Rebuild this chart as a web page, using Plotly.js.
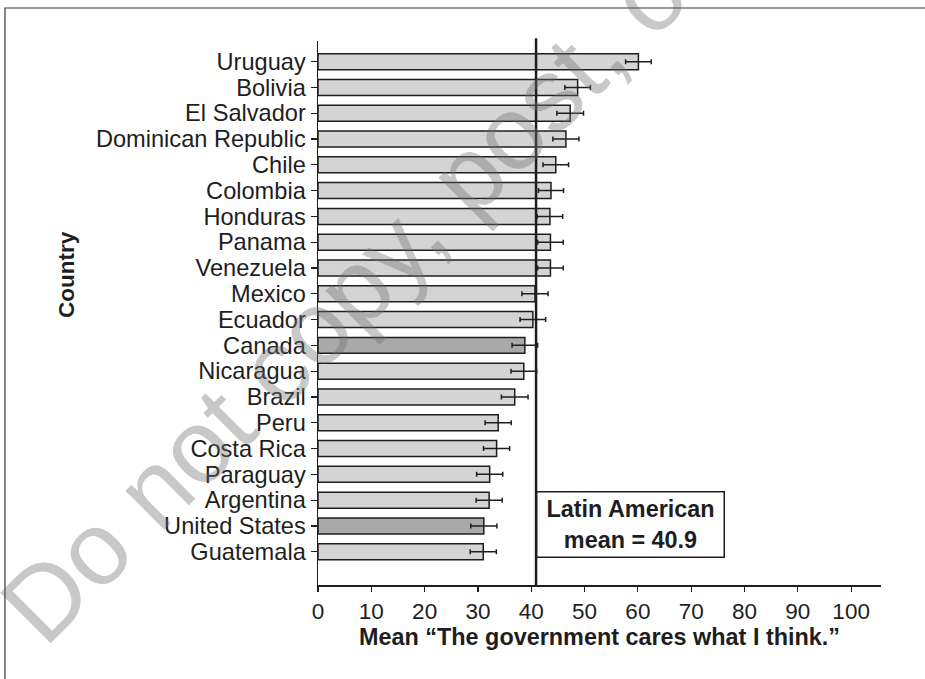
<!DOCTYPE html>
<html>
<head>
<meta charset="utf-8">
<script src="https://cdn.plot.ly/plotly-3.0.1.min.js"></script>
<style>
html,body{margin:0;padding:0;background:#fff;}
#chart{width:925px;height:679px;}
</style>
</head>
<body>
<div id="chart"></div>
<script>
const countries = ["Uruguay","Bolivia","El Salvador","Dominican Republic","Chile","Colombia","Honduras","Panama","Venezuela","Mexico","Ecuador","Canada","Nicaragua","Brazil","Peru","Costa Rica","Paraguay","Argentina","United States","Guatemala"];
const means = [60.1,48.7,47.3,46.5,44.6,43.7,43.5,43.6,43.6,40.7,40.3,38.8,38.6,36.9,33.8,33.5,32.2,32.1,31.1,31.0];
const errors = [2.4,2.4,2.5,2.45,2.4,2.35,2.4,2.4,2.4,2.45,2.4,2.4,2.4,2.5,2.45,2.45,2.45,2.45,2.45,2.45];
const northAmerican = ["Canada","United States"];
const latinMean = 40.9;
const xTicks = [0,10,20,30,40,50,60,70,80,90,100];

const font = "'Liberation Sans', Arial, Helvetica, sans-serif";
const colors = countries.map(c => northAmerican.includes(c) ? "#a9a9a9" : "#d4d4d4");

const trace = {
  type: "bar",
  orientation: "h",
  x: means,
  y: countries,
  width: 0.62,
  marker: {color: colors, line: {color: "#1e1e1e", width: 1.5}},
  error_x: {type: "data", array: errors, visible: true, color: "#1e1e1e", thickness: 1.5, width: 2.5},
  hoverinfo: "skip"
};

const layout = {
  width: 925, height: 679,
  margin: {l: 318, r: 44, t: 41, b: 94, pad: 0},
  paper_bgcolor: "#fff", plot_bgcolor: "#fff",
  showlegend: false,
  font: {family: font, color: "#1e1e1e", size: 23},
  xaxis: {
    range: [0, 105.6], tickmode: "array", tickvals: xTicks, ticktext: xTicks.map(String),
    showgrid: false, zeroline: false, showline: true, linecolor: "#1e1e1e", linewidth: 1.5,
    ticks: "outside", ticklen: 5, tickwidth: 1.2, tickcolor: "#1e1e1e",
    tickfont: {size: 22.5, family: font, color: "#1e1e1e"},
    title: {text: "<b>Mean \u201cThe government cares what I think.\u201d</b>", font: {size: 23.4, family: font, color: "#1e1e1e"}, standoff: 6}
  },
  yaxis: {
    type: "category", categoryorder: "array", categoryarray: countries,
    tickmode: "array", tickvals: countries, ticktext: countries,
    range: [20.29, -0.8],
    showgrid: false, zeroline: false, showline: true, linecolor: "#1e1e1e", linewidth: 1.5,
    ticks: "outside", ticklen: 6, tickwidth: 1.2, tickcolor: "#1e1e1e",
    tickfont: {size: 23.6, family: font, color: "#1e1e1e"}
  },
  shapes: [
    {type: "line", xref: "x", yref: "paper", x0: latinMean, x1: latinMean, y0: 0, y1: 1.005, line: {color: "#1e1e1e", width: 2.5}},
    {type: "rect", xref: "paper", yref: "paper", x0: -0.556, x1: 1.1, y0: -0.2, y1: 1.0607, line: {color: "#333", width: 1.2}, fillcolor: "rgba(0,0,0,0)", layer: "below"}
  ],
  annotations: [
    {xref: "paper", yref: "paper", x: -0.447, y: 0.5705, xanchor: "center", yanchor: "middle", textangle: -90, showarrow: false,
     text: "<b>Country</b>", font: {size: 22.5, family: font, color: "#1e1e1e"}},
    {xref: "x", yref: "paper", x: latinMean, y: 0.112, xanchor: "left", yanchor: "middle", showarrow: false,
     text: "<b>Latin American<br>mean = " + latinMean.toFixed(1) + "</b>", align: "center",
     font: {size: 23.4, family: font, color: "#1e1e1e"},
     bgcolor: "#fff", bordercolor: "#1e1e1e", borderwidth: 1.5, borderpad: 0, width: 186, height: 64},
    {xref: "paper", yref: "paper", x: 0.35, y: 0.84, xanchor: "center", yanchor: "middle", showarrow: false,
     textangle: -45, text: "Do not copy, post, or distribute",
     font: {size: 104, family: font, color: "rgba(110,110,110,0.38)"}}
  ]
};

Plotly.newPlot("chart", [trace], layout, {displayModeBar: false, staticPlot: true});
</script>
</body>
</html>
